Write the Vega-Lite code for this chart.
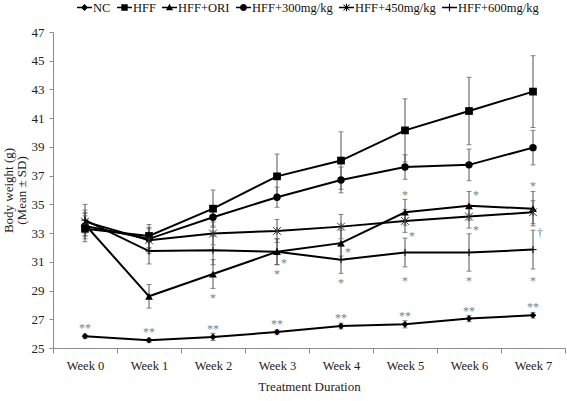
{
  "$schema": "https://vega.github.io/schema/vega-lite/v6.json",
  "width": 512,
  "height": 316,
  "autosize": {"type": "none"},
  "padding": {"left": 53, "top": 32, "right": 2, "bottom": 53},
  "background": "white",
  "config": {
    "view": {"stroke": null},
    "font": "Times New Roman"
  },
  "datasets": {
    "weights": [
      {"week": "Week 0", "group": "NC", "mean": 25.82, "sd": 0.15},
      {"week": "Week 1", "group": "NC", "mean": 25.54, "sd": 0.15},
      {"week": "Week 2", "group": "NC", "mean": 25.77, "sd": 0.25},
      {"week": "Week 3", "group": "NC", "mean": 26.11, "sd": 0.15},
      {"week": "Week 4", "group": "NC", "mean": 26.53, "sd": 0.2},
      {"week": "Week 5", "group": "NC", "mean": 26.65, "sd": 0.25},
      {"week": "Week 6", "group": "NC", "mean": 27.05, "sd": 0.22},
      {"week": "Week 7", "group": "NC", "mean": 27.28, "sd": 0.2},
      {"week": "Week 0", "group": "HFF", "mean": 33.3, "sd": 0.9},
      {"week": "Week 1", "group": "HFF", "mean": 32.8, "sd": 0.8},
      {"week": "Week 2", "group": "HFF", "mean": 34.7, "sd": 1.3},
      {"week": "Week 3", "group": "HFF", "mean": 36.95, "sd": 1.55},
      {"week": "Week 4", "group": "HFF", "mean": 38.05, "sd": 2.0},
      {"week": "Week 5", "group": "HFF", "mean": 40.15, "sd": 2.2},
      {"week": "Week 6", "group": "HFF", "mean": 41.5, "sd": 2.35},
      {"week": "Week 7", "group": "HFF", "mean": 42.85, "sd": 2.5},
      {"week": "Week 0", "group": "HFF+ORI", "mean": 33.6, "sd": 0.8},
      {"week": "Week 1", "group": "HFF+ORI", "mean": 28.6, "sd": 0.82},
      {"week": "Week 2", "group": "HFF+ORI", "mean": 30.15, "sd": 1.0},
      {"week": "Week 3", "group": "HFF+ORI", "mean": 31.7, "sd": 0.9},
      {"week": "Week 4", "group": "HFF+ORI", "mean": 32.3, "sd": 0.9},
      {"week": "Week 5", "group": "HFF+ORI", "mean": 34.45, "sd": 0.9},
      {"week": "Week 6", "group": "HFF+ORI", "mean": 34.9, "sd": 1.0},
      {"week": "Week 7", "group": "HFF+ORI", "mean": 34.7, "sd": 1.2},
      {"week": "Week 0", "group": "HFF+300mg/kg", "mean": 33.5, "sd": 0.9},
      {"week": "Week 1", "group": "HFF+300mg/kg", "mean": 32.6, "sd": 0.7},
      {"week": "Week 2", "group": "HFF+300mg/kg", "mean": 34.1, "sd": 0.6},
      {"week": "Week 3", "group": "HFF+300mg/kg", "mean": 35.5, "sd": 0.7},
      {"week": "Week 4", "group": "HFF+300mg/kg", "mean": 36.7, "sd": 0.9},
      {"week": "Week 5", "group": "HFF+300mg/kg", "mean": 37.6, "sd": 0.85},
      {"week": "Week 6", "group": "HFF+300mg/kg", "mean": 37.75, "sd": 1.1},
      {"week": "Week 7", "group": "HFF+300mg/kg", "mean": 38.95, "sd": 1.2},
      {"week": "Week 0", "group": "HFF+450mg/kg", "mean": 33.8, "sd": 0.8},
      {"week": "Week 1", "group": "HFF+450mg/kg", "mean": 32.5, "sd": 0.9},
      {"week": "Week 2", "group": "HFF+450mg/kg", "mean": 32.97, "sd": 0.8},
      {"week": "Week 3", "group": "HFF+450mg/kg", "mean": 33.15, "sd": 0.8},
      {"week": "Week 4", "group": "HFF+450mg/kg", "mean": 33.45, "sd": 0.85},
      {"week": "Week 5", "group": "HFF+450mg/kg", "mean": 33.85, "sd": 0.8},
      {"week": "Week 6", "group": "HFF+450mg/kg", "mean": 34.15, "sd": 0.8},
      {"week": "Week 7", "group": "HFF+450mg/kg", "mean": 34.45, "sd": 0.8},
      {"week": "Week 0", "group": "HFF+600mg/kg", "mean": 33.9, "sd": 1.1},
      {"week": "Week 1", "group": "HFF+600mg/kg", "mean": 31.75, "sd": 0.9},
      {"week": "Week 2", "group": "HFF+600mg/kg", "mean": 31.8, "sd": 1.0},
      {"week": "Week 3", "group": "HFF+600mg/kg", "mean": 31.7, "sd": 0.9},
      {"week": "Week 4", "group": "HFF+600mg/kg", "mean": 31.15, "sd": 0.95},
      {"week": "Week 5", "group": "HFF+600mg/kg", "mean": 31.65, "sd": 1.0},
      {"week": "Week 6", "group": "HFF+600mg/kg", "mean": 31.65, "sd": 1.3},
      {"week": "Week 7", "group": "HFF+600mg/kg", "mean": 31.85, "sd": 1.35}
    ],
    "sig": [
      {"week": "Week 2", "value": 28.72, "label": "*", "side": "c"},
      {"week": "Week 3", "value": 31.11, "label": "*", "side": "r"},
      {"week": "Week 3", "value": 30.37, "label": "*", "side": "c"},
      {"week": "Week 4", "value": 31.88, "label": "*", "side": "r"},
      {"week": "Week 4", "value": 29.72, "label": "*", "side": "c"},
      {"week": "Week 5", "value": 33.01, "label": "*", "side": "r"},
      {"week": "Week 5", "value": 29.84, "label": "*", "side": "c"},
      {"week": "Week 5", "value": 35.87, "label": "*", "side": "c"},
      {"week": "Week 6", "value": 33.39, "label": "*", "side": "r"},
      {"week": "Week 6", "value": 29.84, "label": "*", "side": "c"},
      {"week": "Week 6", "value": 35.87, "label": "*", "side": "r"},
      {"week": "Week 7", "value": 33.2, "label": "†", "side": "r"},
      {"week": "Week 7", "value": 29.84, "label": "*", "side": "c"},
      {"week": "Week 7", "value": 36.46, "label": "*", "side": "c"}
    ]
  },
  "encoding": {
    "x": {
      "field": "week", "type": "ordinal",
      "scale": {"type": "band", "domain": ["Week 0", "Week 1", "Week 2", "Week 3", "Week 4", "Week 5", "Week 6", "Week 7"], "paddingInner": 0, "paddingOuter": 0},
      "axis": {"title": "Treatment Duration", "labelAngle": 0, "tickBand": "extent", "tickSize": 5, "labelPadding": 6, "titlePadding": 9,
        "grid": false, "domainColor": "#8c8c8c", "tickColor": "#8c8c8c",
        "labelFont": "Times New Roman", "titleFont": "Times New Roman", "labelFontSize": 12.5, "titleFontSize": 13, "labelColor": "#222", "titleColor": "#222", "titleFontWeight": "normal"}
    },
    "y": {"field": "mean", "type": "quantitative", "scale": {"domain": [25, 47], "nice": false, "zero": false},
      "axis": {"title": ["Body weight (g)", "(Mean ± SD)"], "values": [25, 27, 29, 31, 33, 35, 37, 39, 41, 43, 45, 47], "tickSize": 4, "labelPadding": 5, "labelOverlap": false,
        "grid": false, "domainColor": "#8c8c8c", "tickColor": "#8c8c8c",
        "labelFont": "Times New Roman", "titleFont": "Times New Roman", "labelFontSize": 13, "titleFontSize": 13, "labelColor": "#222", "titleColor": "#222", "titleFontWeight": "normal",
        "titleX": -51, "titleY": 158, "titleAngle": -90, "titleAlign": "center", "titleBaseline": "top", "titleLineHeight": 13}}
  },
  "layer": [
    {
      "data": {"name": "weights"},
      "mark": {"type": "line", "color": "black", "strokeWidth": 2},
      "encoding": {"detail": {"field": "group"}}
    },
    {
      "data": {"name": "weights"},
      "mark": {"type": "errorbar", "ticks": {"size": 5, "color": "#555", "strokeWidth": 1}, "color": "#555", "thickness": 1},
      "encoding": {
        "yError": {"field": "sd"},
        "detail": {"field": "group"}
      }
    },
    {
      "data": {"name": "weights"},
      "transform": [{"filter": "datum.group === 'NC'"}],
      "mark": {"type": "point", "shape": "diamond", "size": 45, "filled": true, "color": "black", "opacity": 1},
      "encoding": {}
    },
    {
      "data": {"name": "weights"},
      "transform": [{"filter": "datum.group === 'HFF'"}],
      "mark": {"type": "point", "shape": "square", "size": 60, "filled": true, "color": "black", "opacity": 1},
      "encoding": {}
    },
    {
      "data": {"name": "weights"},
      "transform": [{"filter": "datum.group === 'HFF+ORI'"}],
      "mark": {"type": "point", "shape": "triangle-up", "size": 60, "filled": true, "color": "black", "opacity": 1},
      "encoding": {}
    },
    {
      "data": {"name": "weights"},
      "transform": [{"filter": "datum.group === 'HFF+300mg/kg'"}],
      "mark": {"type": "point", "shape": "circle", "size": 55, "filled": true, "color": "black", "opacity": 1},
      "encoding": {}
    },
    {
      "data": {"name": "weights"},
      "transform": [{"filter": "datum.group === 'HFF+450mg/kg'"}],
      "mark": {"type": "point", "shape": "M-1,-1L1,1M-1,1L1,-1M0,-1V1", "size": 60, "filled": false, "color": "#333", "strokeWidth": 1, "opacity": 1},
      "encoding": {}
    },
    {
      "data": {"name": "weights"},
      "transform": [{"filter": "datum.group === 'HFF+600mg/kg'"}],
      "mark": {"type": "point", "shape": "M-1,0H1M0,-1V1", "size": 50, "filled": false, "color": "black", "strokeWidth": 1, "opacity": 1},
      "encoding": {}
    },
    {
      "data": {"name": "weights"},
      "transform": [{"filter": "datum.group === 'NC'"}],
      "mark": {"type": "text", "text": "**", "font": "Times New Roman", "fontSize": 12, "baseline": "middle", "dy": -8, "fill": "#808080"},
      "encoding": {}
    },
    {
      "data": {"name": "sig"},
      "transform": [{"filter": "datum.side === 'c'"}],
      "mark": {"type": "text", "font": "Times New Roman", "fontSize": 12, "baseline": "middle", "dy": 3, "fill": "#808080"},
      "encoding": {"y": {"field": "value", "type": "quantitative"}, "text": {"field": "label"}}
    },
    {
      "data": {"name": "sig"},
      "transform": [{"filter": "datum.side === 'r'"}],
      "mark": {"type": "text", "font": "Times New Roman", "fontSize": 12, "baseline": "middle", "dy": 3, "dx": 7, "fill": "#808080"},
      "encoding": {"y": {"field": "value", "type": "quantitative"}, "text": {"field": "label"}}
    },
    {
      "data": {"name": "weights"},
      "transform": [{"filter": "false"}],
      "mark": {"type": "point", "filled": true, "color": "black"},
      "encoding": {
        "shape": {"field": "group", "type": "nominal",
          "scale": {"domain": ["NC", "HFF", "HFF+ORI", "HFF+300mg/kg", "HFF+450mg/kg", "HFF+600mg/kg"],
            "range": [
              "M-1,-0.1H1V0.1H-1ZM0,-0.47L0.47,0L0,0.47L-0.47,0Z",
              "M-1,-0.1H1V0.1H-1ZM-0.43,-0.43H0.43V0.43H-0.43Z",
              "M-1,-0.1H1V0.1H-1ZM0,-0.5L0.47,0.35H-0.47Z",
              "M-1,-0.1H1V0.1H-1ZM-0.47,0A0.47,0.47,0,1,1,0.47,0A0.47,0.47,0,1,1,-0.47,0Z",
              "M-1,-0.1H1V0.1H-1ZM-0.44,-0.36L-0.36,-0.44L0.44,0.36L0.36,0.44ZM-0.44,0.36L0.36,-0.44L0.44,-0.36L-0.36,0.44ZM-0.07,-0.5H0.07V0.5H-0.07Z",
              "M-1,-0.1H1V0.1H-1ZM-0.08,-0.5H0.08V0.5H-0.08Z"
            ]},
          "legend": {"title": null, "orient": "none", "legendX": 24, "legendY": -32, "direction": "horizontal", "padding": 0,
            "symbolSize": 225, "symbolOpacity": 1, "symbolFillColor": "black", "symbolStrokeWidth": 0,
            "labelFont": "Times New Roman", "labelFontSize": 12.5, "labelColor": "#111", "labelOffset": 1, "columnPadding": 6,
            "encode": {"symbols": {"update": {"fill": {"value": "black"}, "opacity": {"value": 1}}}}}
        }
      }
    }
  ]
}
